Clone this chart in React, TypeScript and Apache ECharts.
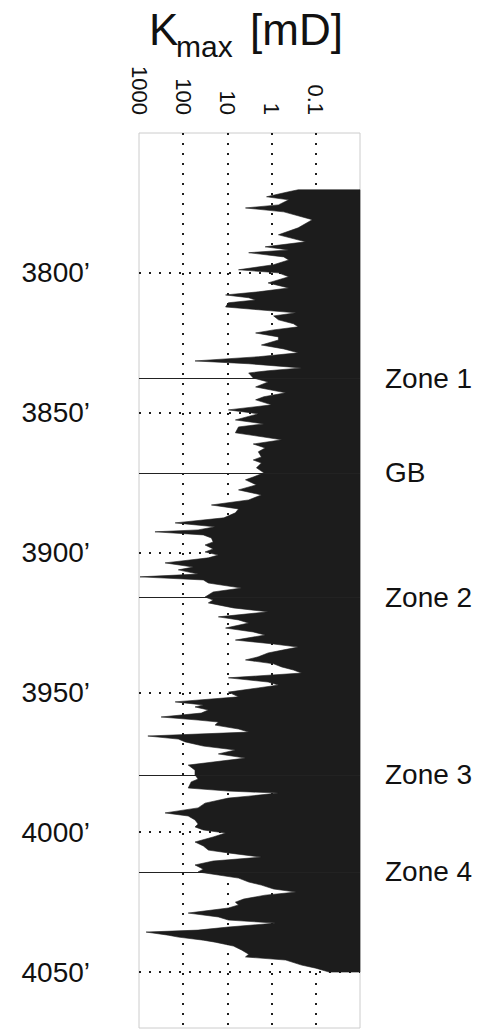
import React, { useEffect, useRef } from 'react';
import * as echarts from 'echarts';

const depthFt = [
  3770.3, 3771.0, 3772.8, 3773.9, 3775.7, 3776.8, 3778.2, 3781.0, 3783.9, 3786.4,
  3788.9, 3790.7, 3791.8, 3792.8, 3794.3, 3795.4, 3797.1, 3798.9, 3800.0, 3801.4,
  3803.6, 3805.4, 3806.8, 3807.9, 3808.9, 3809.7, 3810.7, 3812.2, 3813.2, 3814.3,
  3815.4, 3816.8, 3818.2, 3819.3, 3820.4, 3821.5, 3822.9, 3824.0, 3825.8, 3827.2,
  3828.6, 3830.0, 3831.5, 3832.5, 3834.0, 3835.0, 3835.8, 3837.6, 3839.0, 3840.8,
  3842.9, 3844.3, 3845.4, 3847.2, 3849.0, 3850.4, 3852.6, 3854.0, 3855.1, 3857.2,
  3858.7, 3859.7, 3861.2, 3862.6, 3864.0, 3865.8, 3866.9, 3868.0, 3869.7, 3871.5,
  3873.0, 3874.0, 3875.8, 3877.6, 3879.4, 3881.2, 3883.0, 3884.4, 3885.8, 3887.6,
  3889.4, 3890.8, 3891.9, 3892.6, 3893.7, 3894.8, 3896.2, 3897.3, 3898.7, 3899.8,
  3900.9, 3901.9, 3903.7, 3905.2, 3906.2, 3907.7, 3908.7, 3909.8, 3910.9, 3912.7,
  3914.1, 3915.9, 3917.0, 3918.0, 3919.8, 3921.2, 3923.0, 3924.1, 3925.2, 3927.0,
  3928.4, 3929.5, 3931.3, 3932.7, 3933.8, 3934.8, 3935.9, 3937.3, 3938.4, 3939.8,
  3940.9, 3942.0, 3943.1, 3944.8, 3946.3, 3947.4, 3948.4, 3949.9, 3951.6, 3953.4,
  3954.5, 3955.2, 3956.3, 3957.4, 3958.8, 3959.9, 3960.6, 3961.7, 3963.1, 3964.2,
  3965.6, 3966.7, 3967.7, 3969.2, 3970.6, 3972.0, 3973.5, 3974.9, 3976.0, 3977.8,
  3979.5, 3981.0, 3982.0, 3984.2, 3985.3, 3986.0, 3987.1, 3987.8, 3989.6, 3991.3,
  3993.1, 3994.2, 3995.6, 3997.1, 3998.1, 3999.2, 4000.3, 4001.7, 4003.5, 4004.9,
  4006.4, 4007.4, 4008.9, 4010.3, 4011.7, 4013.2, 4014.2, 4015.3, 4016.4, 4017.8,
  4018.9, 4020.3, 4021.4, 4022.5, 4023.9, 4025.0, 4026.0, 4027.1, 4028.9, 4030.3,
  4031.4, 4032.5, 4033.9, 4035.0, 4035.7, 4036.8, 4037.5, 4038.6, 4039.3, 4040.7,
  4042.1, 4043.6, 4044.6, 4045.7, 4047.5, 4048.6, 4050.0
];

const kmaxMd = [
  0.25, 0.41, 1.3, 0.41, 0.7, 3.9, 0.53, 0.12, 0.25, 0.7,
  0.17, 1.4, 0.41, 3.3, 0.53, 0.41, 0.9, 5.6, 0.7, 0.41,
  1.2, 0.41, 2.0, 11, 3.3, 2.3, 9.5, 11, 2.0, 0.28,
  0.9, 0.7, 0.32, 0.25, 0.9, 2.3, 0.7, 0.7, 1.7, 0.53,
  0.25, 2.0, 54, 3.3, 0.21, 1.2, 3.3, 2.6, 1.2, 2.3,
  0.48, 1.5, 2.3, 1.0, 9.5, 2.0, 6.6, 1.5, 5.6, 6.6,
  1.5, 0.59, 2.6, 1.4, 2.0, 1.7, 2.6, 1.7, 2.2, 1.5,
  2.6, 3.9, 2.2, 5.6, 1.7, 3.3, 23, 5.6, 6.6, 12,
  152, 19, 46, 435, 35, 23, 21, 32, 21, 32,
  16, 27, 257, 59, 129, 46, 950, 35, 27, 4.8,
  21, 32, 21, 27, 7.3, 1.2, 16, 5.6, 3.3, 11,
  2.6, 1.4, 6.6, 0.9, 0.25, 0.53, 1.2, 2.0, 3.9, 0.9,
  0.59, 0.32, 0.21, 9.5, 1.2, 0.7, 2.0, 9.5, 5.6, 152,
  35, 54, 27, 39, 316, 46, 16, 19, 5.6, 3.3,
  630, 129, 90, 35, 6.6, 16, 3.9, 21, 77, 54,
  54, 46, 66, 77, 9.5, 0.7, 3.3, 9.5, 32, 46,
  257, 77, 54, 46, 54, 35, 11, 21, 54, 35,
  27, 9.5, 1.7, 21, 54, 35, 46, 16, 5.6, 3.3,
  1.7, 0.9, 0.28, 1.4, 4.3, 6.6, 5.6, 9.5, 77, 16,
  9.5, 0.81, 9.5, 46, 690, 219, 129, 35, 19, 7.3,
  4.8, 3.3, 3.9, 0.48, 0.21, 0.1, 0.05
];

const zoneNames = ['Zone 1', 'GB', 'Zone 2', 'Zone 3', 'Zone 4', 'TD'];
const zoneDepths = [3837.6, 3871.5, 3915.9, 3979.5, 4014.2, 4050.2];

const K_MIN = 0.01;
const K_MAX = 1000;
const DEPTH_MIN = 3750;
const DEPTH_MAX = 4070;

export default function App() {
  const ref = useRef<HTMLDivElement>(null);

  useEffect(() => {
    const chart = echarts.init(ref.current!, null, { renderer: 'svg' });
    const dots = '#1e1e1e';
    const textFont = 'Liberation Sans, Arial, sans-serif';

    const option: any = {
      animation: false,
      backgroundColor: '#ffffff',
      grid: {
        left: 139,
        right: 119,
        top: 133,
        bottom: 4,
        show: true,
        borderColor: '#cccccc',
        borderWidth: 1,
        backgroundColor: 'transparent'
      },
      graphic: [
        {
          type: 'text',
          x: 149,
          y: 29,
          style: {
            text: 'K',
            fontSize: 44,
            fontFamily: textFont,
            fill: '#111',
            align: 'left',
            verticalAlign: 'middle',
            textAlign: 'left',
            textVerticalAlign: 'middle'
          }
        },
        {
          type: 'text',
          x: 176,
          y: 46,
          style: {
            text: 'max',
            fontSize: 30,
            fontFamily: textFont,
            fill: '#111',
            align: 'left',
            verticalAlign: 'middle',
            textAlign: 'left',
            textVerticalAlign: 'middle'
          }
        },
        {
          type: 'text',
          x: 250,
          y: 29,
          style: {
            text: '[mD]',
            fontSize: 44,
            fontFamily: textFont,
            fill: '#111',
            align: 'left',
            verticalAlign: 'middle',
            textAlign: 'left',
            textVerticalAlign: 'middle'
          }
        }
      ],
      xAxis: {
        type: 'log',
        logBase: 10,
        min: K_MIN,
        max: K_MAX,
        inverse: true,
        position: 'top',
        axisLine: { show: false },
        axisTick: { show: false },
        axisLabel: {
          rotate: 90,
          margin: 18,
          fontSize: 22,
          fontFamily: textFont,
          color: '#111',
          showMinLabel: true,
          showMaxLabel: true,
          formatter: (v: number) => {
            if (v < 0.05) return '';
            return v >= 1 ? String(Math.round(v)) : String(Math.round(v * 10) / 10);
          }
        },
        splitLine: {
          show: true,
          lineStyle: {
            color: ['transparent', dots, dots, dots, dots, 'transparent'],
            width: 2,
            type: [2, 8]
          }
        }
      },
      yAxis: {
        type: 'value',
        inverse: true,
        min: DEPTH_MIN,
        max: DEPTH_MAX,
        interval: 50,
        axisLine: { show: false },
        axisTick: { show: false },
        axisLabel: {
          margin: 49,
          fontSize: 28,
          fontFamily: textFont,
          color: '#111',
          showMaxLabel: false,
          formatter: (v: number) => (v === DEPTH_MIN || v % 50 !== 0 ? '' : v + '\u2019')
        },
        splitLine: {
          show: true,
          lineStyle: {
            color: ['transparent', dots, dots, dots, dots, dots, dots, 'transparent'],
            width: 2,
            type: [2, 8]
          }
        }
      },
      series: [
        {
          type: 'custom',
          coordinateSystem: 'cartesian2d',
          encode: { x: 0, y: 1 },
          data: depthFt.map((d, i) => [kmaxMd[i], d]),
          renderItem: (params: any, api: any) => {
            if (params.dataIndex !== 0) return null;
            const pts: number[][] = [];
            pts.push(api.coord([K_MIN, depthFt[0]]));
            for (let i = 0; i < depthFt.length; i++) {
              pts.push(api.coord([kmaxMd[i], depthFt[i]]));
            }
            pts.push(api.coord([K_MIN, depthFt[depthFt.length - 1]]));
            return {
              type: 'polygon',
              shape: { points: pts },
              style: { fill: '#1c1c1c', stroke: '#1c1c1c', lineWidth: 0.6 }
            };
          },
          markLine: {
            silent: true,
            symbol: 'none',
            animation: false,
            lineStyle: { color: '#222', width: 1, type: 'solid' },
            label: {
              show: true,
              position: 'end',
              distance: 25,
              formatter: '{b}',
              fontSize: 28,
              fontFamily: textFont,
              color: '#111'
            },
            data: zoneNames.map((n, i) => [
              {
                name: n,
                coord: [K_MAX, zoneDepths[i]],
                lineStyle: n === 'TD' ? { opacity: 0 } : undefined
              },
              { coord: [K_MIN, zoneDepths[i]] }
            ])
          }
        }
      ]
    };

    chart.setOption(option);
    return () => chart.dispose();
  }, []);

  return (
    <div
      ref={ref}
      style={{ position: 'fixed', left: 0, top: 0, width: 479, height: 1032, background: '#fff' }}
    />
  );
}
